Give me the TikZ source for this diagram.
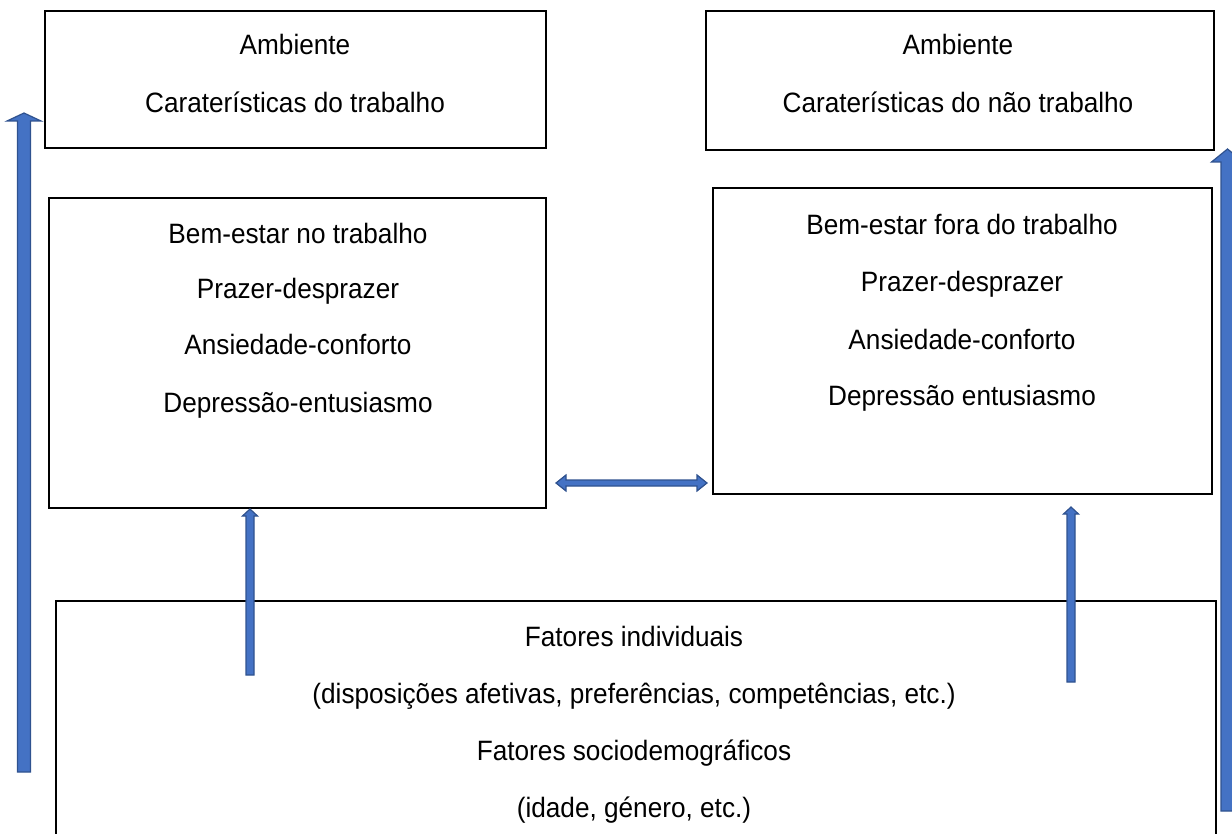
\documentclass[tikz,border=0pt]{standalone}
\usepackage{fontspec}
\setmainfont{Liberation Sans}[FakeStretch=0.935]
\definecolor{arrfill}{HTML}{4472C4}
\definecolor{arrdraw}{HTML}{2F528F}
\tikzset{
  box/.style={draw=black, line width=1.6pt, fill=none},
  txt/.style={font=\fontsize{28}{32}\selectfont, inner sep=0pt, anchor=base},
  blk/.style={fill=arrfill, draw=arrdraw, line width=1.2pt, line join=miter}
}
% vertical block arrow: cx, ybottom, ytip, shaft half width, head half width, head length
\newcommand\upblock[6]{%
  \draw[blk] ({#1-#4},#2) -- ({#1-#4},{#3+#6}) -- ({#1-#5},{#3+#6}) -- (#1,#3)
    -- ({#1+#5},{#3+#6}) -- ({#1+#4},{#3+#6}) -- ({#1+#4},#2) -- cycle;}
\begin{document}
\begin{tikzpicture}[x=1pt,y=-1pt]
\useasboundingbox (0,0) rectangle (1232,834);
% boxes
\draw[box] (45,11) rectangle (546,148);
\draw[box] (706,11) rectangle (1214,150);
\draw[box] (49,198) rectangle (546,508);
\draw[box] (713,188) rectangle (1212,494);
\draw[box] (56,850) -- (56,601) -- (1216,601) -- (1216,850);
% texts box 1
\node[txt] (t11) at (295,55) {Ambiente};
\node[txt] (t12) at (295,113) {Caraterísticas do trabalho};
% box 2
\node[txt] (t21) at (958,55) {Ambiente};
\node[txt] (t22) at (958,113) {Caraterísticas do não trabalho};
% box 3
\node[txt] (t31) at (298,244) {Bem-estar no trabalho};
\node[txt] (t32) at (298,299) {Prazer-desprazer};
\node[txt] (t33) at (298,355) {Ansiedade-conforto};
\node[txt] (t34) at (298,412) {Depressão-entusiasmo};
% box 4
\node[txt] (t41) at (962,235) {Bem-estar fora do trabalho};
\node[txt] (t42) at (962,292) {Prazer-desprazer};
\node[txt] (t43) at (962,349) {Ansiedade-conforto};
\node[txt] (t44) at (962,406) {Depressão entusiasmo};
% box 5
\node[txt] (t51) at (634,646) {Fatores individuais};
\node[txt] (t52) at (634,703) {(disposições afetivas, preferências, competências, etc.)};
\node[txt] (t53) at (634,760) {Fatores sociodemográficos};
\node[txt] (t54) at (634,817) {(idade, género, etc.)};
% block arrows
\upblock{24}{772}{113}{6.5}{17}{8}
\upblock{1227.5}{811}{149}{6.5}{16}{13}
\upblock{250}{675}{509}{4}{7.5}{7}
\upblock{1071}{682}{507}{4}{7.5}{7}
\draw[blk] (556,483) -- (566,475) -- (566,480) -- (697,480) -- (697,475) -- (707,483)
  -- (697,491) -- (697,486) -- (566,486) -- (566,491) -- cycle;
\end{tikzpicture}
\end{document}
